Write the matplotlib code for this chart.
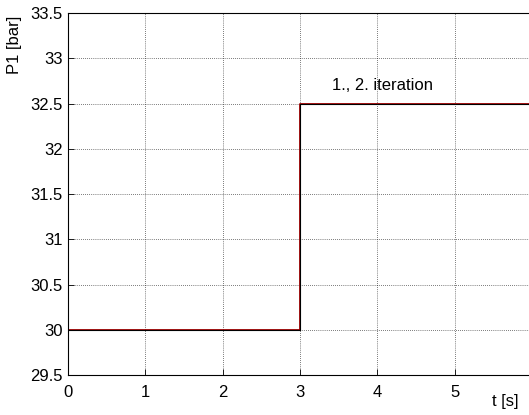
import matplotlib
matplotlib.use("Agg")
import matplotlib.pyplot as plt

# step input P1 over time, two iterations (identical)
t = [0, 3, 3, 6]
p1_iter1 = [30, 30, 32.5, 32.5]
p1_iter2 = [30, 30, 32.5, 32.5]
xticks = [0, 1, 2, 3, 4, 5]
yticks = [29.5, 30, 30.5, 31, 31.5, 32, 32.5, 33, 33.5]

plt.rcParams["font.family"] = ["Liberation Sans", "DejaVu Sans"]
plt.rcParams["font.size"] = 12

fig = plt.figure(figsize=(5.29, 4.15), dpi=100)
ax = fig.add_axes([68 / 529, 40 / 415, 464 / 529, 362 / 415])

ax.plot(t, p1_iter1, color="#a00000", lw=1.3)
ax.plot(t, p1_iter2, color="black", lw=0.8)

ax.set_xlim(0, 6)
ax.set_ylim(29.5, 33.5)
ax.set_xticks(xticks)
ax.set_yticks(yticks)
ax.set_yticklabels([f"{v:g}" for v in yticks])
ax.tick_params(direction="in", length=4, width=0.6)
ax.tick_params(axis="x", pad=7)
ax.tick_params(axis="y", pad=4)
ax.grid(True, ls=(0, (1, 2)), color="black", lw=0.5)
for s in ax.spines.values():
    s.set_linewidth(0.8)
ax.spines["right"].set_visible(False)

ax.text(4.07, 32.7, "1., 2. iteration", ha="center", va="center")
fig.text(505 / 529, 1 - 401 / 415, "t [s]", ha="center", va="center")
fig.text(14 / 529, 1 - 45 / 415, "P1 [bar]", ha="center", va="center", rotation=90)

fig.savefig("out.png", dpi=100)
